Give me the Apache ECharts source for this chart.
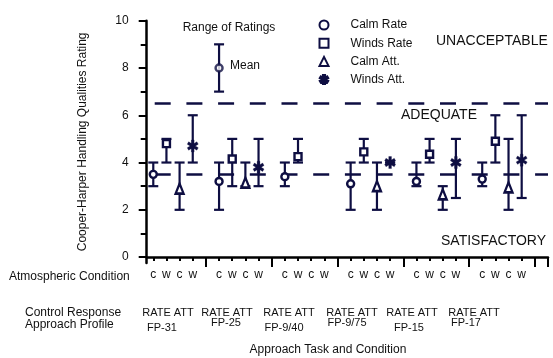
<!DOCTYPE html>
<html><head><meta charset="utf-8">
<script src="https://cdn.jsdelivr.net/npm/echarts@6/dist/echarts.min.js"></script>
<style>html,body{margin:0;padding:0;background:#fff}#c{width:553px;height:358px}</style>
</head><body><div id="c"></div>
<script>
// ---------- data ----------
const profiles = ['FP-31', 'FP-25', 'FP-9/40', 'FP-9/75', 'FP-15', 'FP-17'];
const responseLabels = ['RATE ATT', 'RATE ATT', 'RATE ATT', 'RATE ATT', 'RATE ATT', 'RATE ATT'];
const conditionLabels = ['c', 'w', 'c', 'w'];
const seriesNames = ['Calm Rate', 'Winds Rate', 'Calm Att.', 'Winds Att.'];

const calmRateMean  = [3.5, 3.2, 3.4, 3.1, 3.2, 3.3];
const calmRateLow   = [3, 2, 3, 2, 3, 3];
const calmRateHigh  = [4, 4, 4, 4, 4, 4];

const windsRateMean = [4.8, 4.15, 4.25, 4.45, 4.35, 4.9];
const windsRateLow  = [4, 3, 4, 4, 4, 4];
const windsRateHigh = [5, 5, 5, 5, 5, 6];

const calmAttMean   = [2.9, 3.15, null, 3.0, 2.65, 2.95];
const calmAttLow    = [2, 3, null, 2, 2, 2];
const calmAttHigh   = [4, 4, null, 4, 3, 5];

const windsAttMean  = [4.7, 3.8, null, 4.0, 4.0, 4.1];
const windsAttLow   = [4, 3, null, 4, 2.5, 2.5];
const windsAttHigh  = [6, 5, null, 4, 5, 6];

// legend example bar ("Range of Ratings" / "Mean")
const exampleSlot = 6, exampleMean = 8, exampleLow = 7, exampleHigh = 9;

// boundary lines
const boundaries = [3.5, 6.5];
const yMajorTicks = [0, 2, 4, 6, 8, 10];
const yMinorTicks = [1, 3, 5, 7, 9];
const xMajorTicks = [5, 10, 15, 20, 25, 30, 31];
const xMinorTicks = [1,2,3,4,6,7,8,9,11,12,13,14,16,17,18,19,21,22,23,24,26,27,28,29];

// ---------- build ----------
const NAVY = '#0e0e42';
const FONT = 'Liberation Sans, Arial, sans-serif';
const TXT = '#111';

const ASTERISK = 'path://M4.6 0L7.4 0L7.4 12L4.6 12Z' +
  'M1.72 1.8L11.72 7.8L10.28 10.2L0.28 4.2Z' +
  'M0.28 7.8L10.28 1.8L11.72 4.2L1.72 10.2Z';

const groups = [
  {name: seriesNames[0], mean: calmRateMean, low: calmRateLow, high: calmRateHigh, symbol: 'circle', size: 7,
   style: {color: '#fff', borderColor: NAVY, borderWidth: 2.4}},
  {name: seriesNames[1], mean: windsRateMean, low: windsRateLow, high: windsRateHigh, symbol: 'rect', size: 7,
   style: {color: '#fff', borderColor: NAVY, borderWidth: 2.4}},
  {name: seriesNames[2], mean: calmAttMean, low: calmAttLow, high: calmAttHigh, symbol: 'triangle', size: [8, 10],
   style: {color: '#fff', borderColor: NAVY, borderWidth: 2.4}},
  {name: seriesNames[3], mean: windsAttMean, low: windsAttLow, high: windsAttHigh, symbol: ASTERISK, size: [11, 12],
   style: {color: NAVY, borderColor: NAVY, borderWidth: 0.3}}
];
const slotOf = (g, k) => g * 5 + k + 1;

function errRender(params, api) {
  const x = api.value(0), lo = api.value(1), hi = api.value(2);
  const a = api.coord([x, lo]), b = api.coord([x, hi]);
  const cap = 5;
  const st = {stroke: NAVY, lineWidth: 2.2, fill: null};
  return {type: 'group', children: [
    {type: 'line', shape: {x1: a[0], y1: a[1], x2: b[0], y2: b[1]}, style: st},
    {type: 'line', shape: {x1: a[0] - cap, y1: a[1], x2: a[0] + cap, y2: a[1]}, style: st},
    {type: 'line', shape: {x1: b[0] - cap, y1: b[1], x2: b[0] + cap, y2: b[1]}, style: st}
  ]};
}

const series = [];
groups.forEach((s, k) => {
  const bars = [], pts = [];
  s.mean.forEach((m, g) => {
    if (m == null) return;
    bars.push([slotOf(g, k), s.low[g], s.high[g]]);
    pts.push([slotOf(g, k), m]);
  });
  series.push({type: 'custom', renderItem: errRender, data: bars, z: 3, silent: true,
               encode: {x: 0, y: [1, 2]}});
  series.push({type: 'scatter', name: s.name, data: pts, symbol: s.symbol, symbolSize: s.size, z: 5,
               itemStyle: Object.assign({opacity: 1}, s.style)});
});
// example bar
series.push({type: 'custom', renderItem: errRender, data: [[exampleSlot, exampleLow, exampleHigh]], z: 3,
             encode: {x: 0, y: [1, 2]}});
series.push({type: 'scatter', name: 'example', data: [[exampleSlot, exampleMean]], symbol: 'circle', symbolSize: 7, z: 5,
             itemStyle: {color: '#fff', borderColor: NAVY, borderWidth: 2.4}});
// boundary lines
series.push({type: 'line', data: [], markLine: {silent: true, symbol: ['none', 'none'], label: {show: false},
  lineStyle: {color: NAVY, width: 2.5, type: [16, 15.7], dashOffset: 23.7},
  data: boundaries.map(v => ({yAxis: v}))}});

const graphics = [];
const txt = (text, x, y, size, align) => graphics.push({type: 'text', x: x, y: y,
  style: {text: text, fontSize: size, fontFamily: FONT, fill: TXT, align: align || 'left', verticalAlign: 'middle'}});
txt('Range of Ratings', 229, 28, 12, 'center');
txt('Mean', 230, 66, 12);
txt('UNACCEPTABLE', 436, 41, 14);
txt('ADEQUATE', 401, 115, 14);
txt('SATISFACTORY', 441, 241, 14);
txt('Atmospheric Condition', 9, 277, 12);
txt('Control Response', 25, 313, 12);
txt('Approach Profile', 25, 325, 12);
const respX = [168, 227, 289, 352, 412, 474];
responseLabels.forEach((t, i) => txt(t, respX[i], 313, 11, 'center'));
const profX = [162, 226, 284, 347, 409, 466];
profiles.forEach((t, i) => txt(t, profX[i], i % 2 === 0 ? 328 : 323, 11, 'center'));
txt('Approach Task and Condition', 328, 350, 12, 'center');

const xBase = {type: 'value', min: 0.5, max: 31, position: 'bottom', splitLine: {show: false}};
const yBase = {type: 'value', min: -0.25, max: 10, position: 'left', splitLine: {show: false}};

const option = {
  animation: false,
  backgroundColor: '#fff',
  textStyle: {fontFamily: FONT},
  grid: {left: 146.7, right: 5, top: 20.7, bottom: 95, containLabel: false, outerBoundsMode: 'none'},
  legend: {data: seriesNames, orient: 'vertical', left: 318.5, top: 19, padding: 0,
    itemWidth: 9, itemHeight: 9, itemGap: 6.2, selectedMode: false,
    textStyle: {fontSize: 12, color: TXT, lineHeight: 12, padding: [0, 0, 0, 17], fontFamily: FONT}},
  xAxis: [
    Object.assign({}, xBase, {
      axisLine: {show: true, lineStyle: {color: '#000', width: 2.5}},
      axisTick: {show: true, customValues: xMajorTicks, length: 10, lineStyle: {color: '#000', width: 2}},
      axisLabel: {show: true, customValues: xMinorTicks, margin: 6, fontSize: 12, color: TXT, fontFamily: FONT,
        formatter: v => conditionLabels[(Math.round(v) % 5) - 1]}
    }),
    Object.assign({}, xBase, {
      axisLine: {show: false},
      axisTick: {show: true, customValues: xMinorTicks, length: 4, lineStyle: {color: '#000', width: 2}},
      axisLabel: {show: false}
    })
  ],
  yAxis: [
    Object.assign({}, yBase, {
      name: 'Cooper-Harper Handling Qualities Rating', nameLocation: 'middle', nameGap: 58,
      nameTextStyle: {fontSize: 12, color: TXT, fontFamily: FONT, padding: [0, 0, 0, 0]},
      axisLine: {show: true, lineStyle: {color: '#000', width: 2.5}},
      axisTick: {show: true, customValues: yMajorTicks, length: 8, lineStyle: {color: '#000', width: 2}},
      axisLabel: {show: true, customValues: yMajorTicks, margin: 18, fontSize: 12, color: TXT, fontFamily: FONT}
    }),
    Object.assign({}, yBase, {
      axisLine: {show: false},
      axisTick: {show: true, customValues: yMinorTicks, length: 6, lineStyle: {color: '#000', width: 2}},
      axisLabel: {show: false}
    })
  ],
  graphic: graphics,
  series: series
};
const chart = echarts.init(document.getElementById('c'), null, {renderer: 'canvas'});
chart.setOption(option);
</script></body></html>
